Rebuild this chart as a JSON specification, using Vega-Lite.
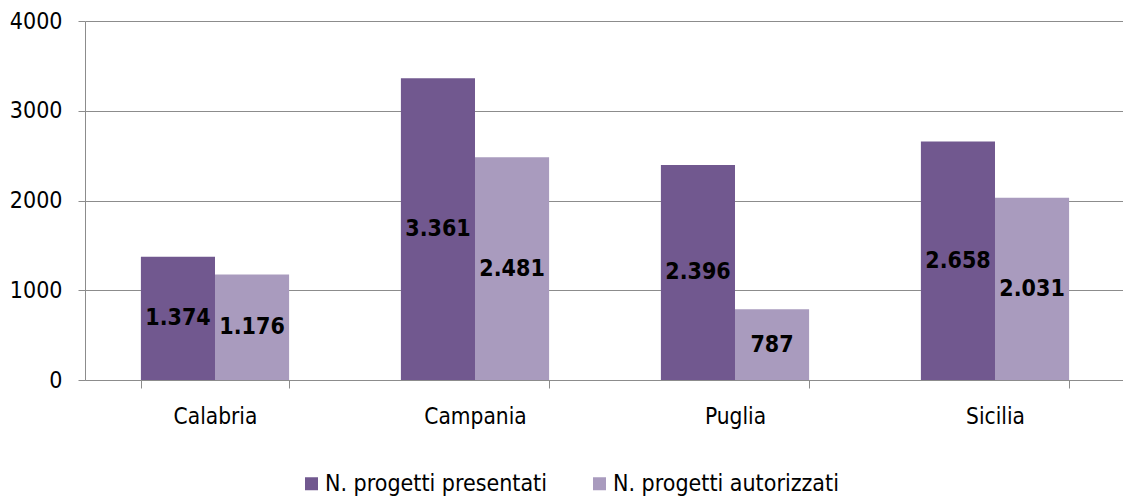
{
  "$schema": "https://vega.github.io/schema/vega-lite/v6.json",
  "autosize": "none",
  "padding": {"left": 85, "top": 21, "right": 0, "bottom": 119},
  "width": 1040,
  "height": 359,
  "background": "white",
  "config": {
    "view": {"stroke": null},
    "font": "DejaVu Sans Condensed, DejaVu Sans",
    "locale": {"number": {"decimal": ",", "thousands": ".", "grouping": [3], "currency": ["€", ""]}}
  },
  "data": {
    "values": [
      {"regione": "Calabria", "serie": "N. progetti presentati", "v": 1374},
      {"regione": "Calabria", "serie": "N. progetti autorizzati", "v": 1176},
      {"regione": "Campania", "serie": "N. progetti presentati", "v": 3361},
      {"regione": "Campania", "serie": "N. progetti autorizzati", "v": 2481},
      {"regione": "Puglia", "serie": "N. progetti presentati", "v": 2396},
      {"regione": "Puglia", "serie": "N. progetti autorizzati", "v": 787},
      {"regione": "Sicilia", "serie": "N. progetti presentati", "v": 2658},
      {"regione": "Sicilia", "serie": "N. progetti autorizzati", "v": 2031}
    ]
  },
  "transform": [{"calculate": "datum.v / 2", "as": "mid"}],
  "encoding": {
    "x": {
      "field": "regione", "type": "nominal", "sort": null,
      "scale": {"paddingInner": 0.43, "paddingOuter": 0.215},
      "axis": {
        "title": null, "labelAngle": 0, "labelFontSize": 22.5, "labelColor": "#000000",
        "domainColor": "#8c8c8c", "tickColor": "#8c8c8c", "tickSize": 8,
        "tickBand": "extent", "labelPadding": 17
      }
    },
    "xOffset": {"field": "serie", "type": "nominal", "sort": ["N. progetti presentati", "N. progetti autorizzati"], "scale": {"paddingInner": 0, "paddingOuter": 0}}
  },
  "layer": [
    {
      "mark": {"type": "bar"},
      "encoding": {
        "y": {
          "field": "v", "type": "quantitative",
          "scale": {"domain": [0, 4000], "nice": false},
          "axis": {
            "title": null, "values": [0, 1000, 2000, 3000, 4000], "format": "d",
            "labelFontSize": 23, "labelColor": "#000000", "labelPadding": 16,
            "domainColor": "#8c8c8c", "tickColor": "#8c8c8c", "tickSize": 7,
            "gridColor": "#8c8c8c", "gridWidth": 1
          }
        },
        "color": {
          "field": "serie", "type": "nominal",
          "scale": {"domain": ["N. progetti presentati", "N. progetti autorizzati"], "range": ["#71588F", "#A99BBE"]},
          "legend": {
            "title": null, "orient": "none", "direction": "horizontal",
            "legendX": 215, "legendY": 451, "padding": 0,
            "symbolType": "square", "symbolSize": 169, "symbolStrokeWidth": 0, "symbolOpacity": 1,
            "labelFontSize": 23, "labelColor": "#000000", "labelOffset": 2, "columnPadding": 41,
            "labelLimit": 400
          }
        }
      }
    },
    {
      "mark": {"type": "text", "fontWeight": "bold", "fontSize": 23, "color": "#000000", "baseline": "middle", "align": "center"},
      "encoding": {
        "y": {"field": "mid", "type": "quantitative"},
        "text": {"field": "v", "type": "quantitative", "format": ",d"}
      }
    }
  ]
}
